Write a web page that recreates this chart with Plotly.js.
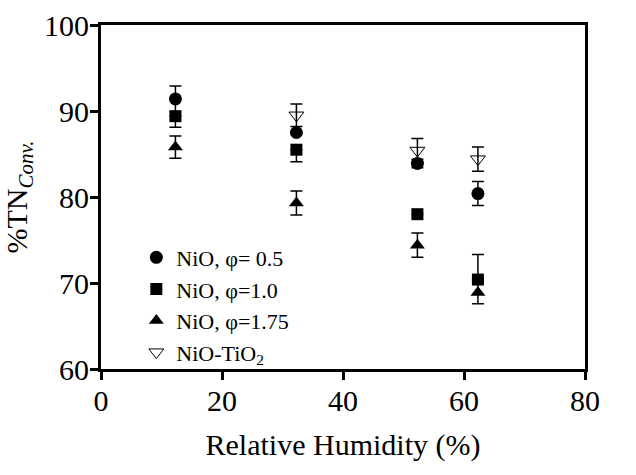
<!DOCTYPE html>
<html><head><meta charset="utf-8">
<script src="https://cdn.plot.ly/plotly-3.0.1.min.js"></script>
<style>body{margin:0;padding:0;background:#fff}</style>
</head><body>
<div id="chart" style="width:636px;height:475px"></div>
<script>
const humidity = [12.3, 32.3, 52.3, 62.3];
const nio05 = [91.4, 87.5, 83.9, 80.4];
const nio05Err = [1.5, 0, 0.5, 1.4];
const nio10 = [89.4, 85.5, 78.0, 70.4];
const nio10ErrPlus = [0, 0, 0, 2.9];
const nio10ErrMinus = [1.3, 1.4, 0, 0];
const nio175 = [85.8, 79.3, 74.4, 68.9];
const nio175Err = [1.3, 1.4, 1.4, 1.3];
const nioTiO2 = [null, 89.5, 85.4, 84.4];
const nioTiO2Err = [0, 1.3, 1.4, 1.4];
const seriesNames = ['NiO, φ= 0.5', 'NiO, φ=1.0', 'NiO, φ=1.75', 'NiO-TiO<sub>2</sub>'];

const eb = (arr, minus) => ({type:'data', array:arr, arrayminus: minus || arr, symmetric: false, color:'#000', thickness:1.5, width:6});

const traces = [
  {x:humidity, y:nio05, name:seriesNames[0], mode:'markers', type:'scatter',
   marker:{symbol:'circle', size:13, color:'#000'}, error_y:eb(nio05Err)},
  {x:humidity, y:nio10, name:seriesNames[1], mode:'markers', type:'scatter',
   marker:{symbol:'square', size:12, color:'#000'}, error_y:eb(nio10ErrPlus, nio10ErrMinus)},
  {x:humidity, y:nio175, name:seriesNames[2], mode:'markers', type:'scatter',
   marker:{symbol:'triangle-up', size:13, color:'#000'}, error_y:eb(nio175Err)},
  {x:humidity, y:nioTiO2, name:seriesNames[3], mode:'markers', type:'scatter',
   marker:{symbol:'triangle-down-open', size:13, color:'#000', line:{width:1, color:'#000'}}, error_y:eb(nioTiO2Err)}
];

const fam = 'Liberation Serif';
const f = (s) => ({family:fam, size:s, color:'#000'});
const layout = {
  width:636, height:475,
  margin:{l:101, r:51, t:25, b:106},
  paper_bgcolor:'#fff', plot_bgcolor:'#fff',
  font: f(22),
  showlegend:true,
  legend:{x:0.073, y:0.385, xanchor:'left', yanchor:'top', bgcolor:'rgba(0,0,0,0)',
    font:f(22), tracegroupgap:0, itemsizing:'trace'},
  xaxis:{range:[0,80], tickvals:[0,20,40,60,80], showline:true, linewidth:3, linecolor:'#000', mirror:true,
    ticks:'outside', ticklen:8, tickwidth:3, tickcolor:'#000', showgrid:false, zeroline:false,
    tickfont:f(30), ticklabelstandoff:-5,
    title:{text:'Relative Humidity (%)', font:f(30), standoff:18}},
  yaxis:{range:[60,100], tickvals:[60,70,80,90,100], showline:true, linewidth:3, linecolor:'#000', mirror:true,
    ticks:'outside', ticklen:8, tickwidth:3, tickcolor:'#000', showgrid:false, zeroline:false,
    tickfont:f(30), ticklabelstandoff:-5,
    title:{text:'%TN<sub><i>Conv.</i></sub>', font:f(30), standoff:8}}
};
Plotly.newPlot('chart', traces, layout, {displayModeBar:false, staticPlot:true});
</script>
</body></html>
